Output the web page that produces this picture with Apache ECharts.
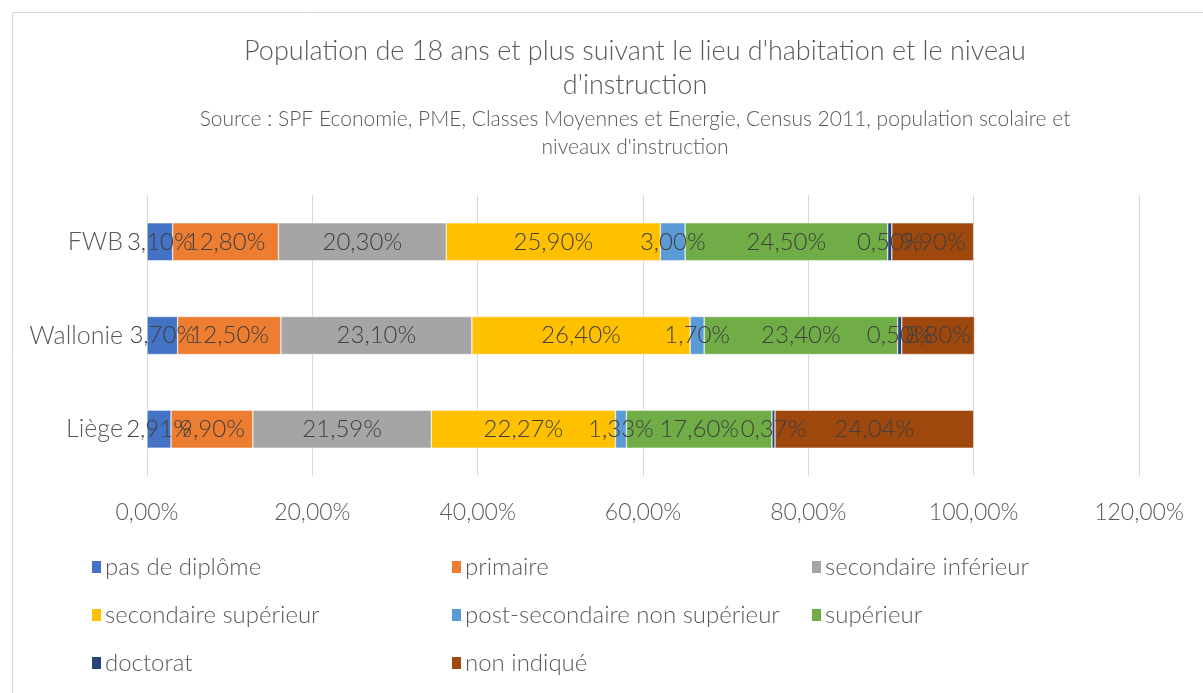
<!DOCTYPE html>
<html><head><meta charset="utf-8">
<script src="https://cdn.jsdelivr.net/npm/echarts@6/dist/echarts.min.js"></script>
<style>html,body{margin:0;padding:0;background:#fff}#c{width:1203px;height:693px}</style>
</head><body><div id="c"></div>
<script>
const categories = ['Liège', 'Wallonie', 'FWB'];
const seriesNames = ['pas de diplôme','primaire','secondaire inférieur','secondaire supérieur','post-secondaire non supérieur','supérieur','doctorat','non indiqué'];
const pasDeDiplome = [2.91, 3.70, 3.10];
const primaire = [9.90, 12.50, 12.80];
const secondaireInferieur = [21.59, 23.10, 20.30];
const secondaireSuperieur = [22.27, 26.40, 25.90];
const postSecondaire = [1.33, 1.70, 3.00];
const superieur = [17.60, 23.40, 24.50];
const doctorat = [0.37, 0.50, 0.50];
const nonIndique = [24.04, 8.80, 9.90];
const xTicks = [0, 20, 40, 60, 80, 100, 120];

const values = [pasDeDiplome, primaire, secondaireInferieur, secondaireSuperieur, postSecondaire, superieur, doctorat, nonIndique];
const colors = ['#4472C4','#ED7D31','#A5A5A5','#FFC000','#5B9BD5','#70AD47','#264478','#9E480E'];
const FONT = 'Lato';
const fmt = v => v.toFixed(2).replace('.', ',') + '%';

const legendPos = [[85,550],[445,550],[805,550],[85,598],[445,598],[805,598],[85,646],[445,646]];

const chart = echarts.init(document.getElementById('c'));
chart.setOption({
  backgroundColor: '#fff',
  color: colors,
  graphic: [{type:'rect', shape:{x:12.5,y:12.5,width:1200,height:700}, style:{fill:'none', stroke:'#d9d9d9', lineWidth:1}, silent:true, z:-10}],
  title: [{
    text: "Population de 18 ans et plus suivant le lieu d'habitation et le niveau\nd'instruction",
    subtext: "Source : SPF Economie, PME, Classes Moyennes et Energie, Census 2011, population scolaire et\nniveaux d'instruction",
    left: 630, top: 29, textAlign: 'center', itemGap: 3,
    textStyle: {fontFamily: FONT, fontWeight: 300, fontSize: 27, color: '#595959', lineHeight: 34},
    subtextStyle: {fontFamily: FONT, fontWeight: 300, fontSize: 21, color: '#595959', lineHeight: 28}
  }],
  legend: seriesNames.map((n, i) => ({
    data: [n], left: legendPos[i][0], top: legendPos[i][1], itemWidth: 11, itemHeight: 14, itemGap: 6,
    icon: 'rect', selectedMode: false,
    textStyle: {fontFamily: FONT, fontWeight: 300, fontSize: 24, color: '#595959', padding: [0,0,0,-2]}
  })),
  grid: {left: 147, right: 64, top: 195, height: 281, containLabel: false},
  xAxis: {
    type: 'value', min: xTicks[0], max: xTicks[xTicks.length-1], interval: xTicks[1]-xTicks[0],
    axisLine: {show: false}, axisTick: {show: false},
    splitLine: {lineStyle: {color: '#d9d9d9', width: 1}},
    axisLabel: {formatter: v => fmt(v), fontFamily: FONT, fontWeight: 300, fontSize: 23, color: '#595959', margin: 25}
  },
  yAxis: {
    type: 'category', data: categories,
    axisLine: {show: false}, axisTick: {show: false},
    axisLabel: {fontFamily: FONT, fontWeight: 300, fontSize: 25, color: '#595959', margin: 24}
  },
  series: seriesNames.map((n, i) => ({
    name: n, type: 'bar', stack: 'total', barWidth: 38, data: values[i],
    itemStyle: {color: colors[i], borderColor: '#fff', borderWidth: 0.5},
    label: {show: true, position: 'inside', formatter: p => fmt(p.value), fontFamily: FONT, fontWeight: 300, fontSize: 24, color: '#404040'},
    emphasis: {disabled: true}
  }))
});
</script></body></html>
